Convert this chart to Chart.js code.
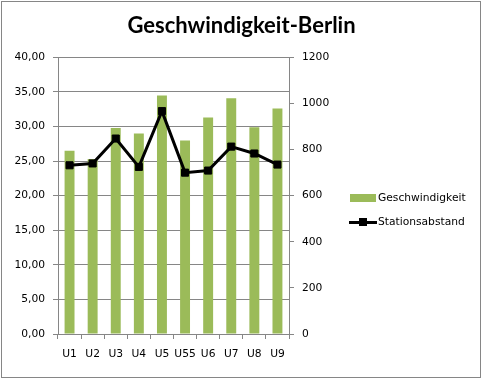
<!DOCTYPE html>
<html>
<head>
<meta charset="utf-8">
<script src="https://cdn.jsdelivr.net/npm/chart.js@4/dist/chart.umd.min.js"></script>
<style>
  html, body { margin: 0; padding: 0; background: #fff; }
  #wrap { position: relative; width: 483px; height: 380px; overflow: hidden; }
  #frame { position: absolute; left: 1px; top: 1px; width: 478px; height: 375px; border: 1px solid #868686; pointer-events: none; }
  .leg { position: absolute; font-family: "DejaVu Sans", sans-serif; font-size: 10.7px; color: #000; line-height: 14px; white-space: nowrap; }
  .sw-bar { position: absolute; background: #9BBB59; }
  .sw-line { position: absolute; background: #000; }
</style>
</head>
<body>
<div id="wrap">
  <canvas id="c" width="483" height="380"></canvas>
  <div class="sw-bar" style="left:350px; top:194px; width:26px; height:8px;"></div>
  <div class="leg" style="left:378px; top:191px;">Geschwindigkeit</div>
  <div class="sw-line" style="left:349px; top:221px; width:28px; height:3px;"></div>
  <div class="sw-line" style="left:359px; top:218px; width:8px; height:8px;"></div>
  <div class="leg" style="left:378px; top:215px;">Stationsabstand</div>
  <div id="frame"></div>
</div>
<script>
const categories = ["U1", "U2", "U3", "U4", "U5", "U55", "U6", "U7", "U8", "U9"];
const geschwindigkeit = [26.5, 25.3, 29.8, 29.0, 34.5, 28.0, 31.3, 34.1, 29.9, 32.6];
const stationsabstand = [732, 740, 848, 725, 967, 700, 709, 813, 783, 735];
const titleText = "Geschwindigkeit-Berlin";
const seriesNames = ["Geschwindigkeit", "Stationsabstand"];

const tickFont = { family: "DejaVu Sans", size: 10.7 };

new Chart(document.getElementById("c"), {
  type: "bar",
  data: {
    labels: categories,
    datasets: [
      {
        type: "line",
        label: seriesNames[1],
        data: stationsabstand,
        yAxisID: "y1",
        borderColor: "#000",
        backgroundColor: "#000",
        borderWidth: 3,
        pointStyle: "rect",
        pointRadius: 5,
        pointBorderWidth: 1,
        pointBackgroundColor: "#000",
        pointBorderColor: "#000",
        tension: 0,
        order: 0
      },
      {
        type: "bar",
        label: seriesNames[0],
        data: geschwindigkeit,
        yAxisID: "y",
        backgroundColor: "#9BBB59",
        borderWidth: 0,
        categoryPercentage: 1,
        barPercentage: 0.43,
        order: 1
      }
    ]
  },
  options: {
    responsive: false,
    animation: false,
    layout: { padding: { left: 0, right: 0, top: 0, bottom: 0 } },
    plugins: {
      legend: { display: false },
      tooltip: { enabled: false },
      title: {
        display: true,
        text: titleText,
        color: "#000",
        font: { family: "Lato", size: 22, weight: "bold", lineHeight: 1.2 },
        padding: { top: 13, bottom: 18 }
      }
    },
    scales: {
      x: {
        offset: true,
        grid: { offset: true, drawOnChartArea: false, drawTicks: true, tickLength: 5, color: "#868686" },
        border: { display: true, color: "#868686", width: 1 },
        ticks: { color: "#000", font: tickFont, padding: 9, maxRotation: 0, autoSkip: false },
        afterFit(s) { s.height = 46; }
      },
      y: {
        position: "left",
        min: 0, max: 40,
        ticks: {
          stepSize: 5, color: "#000", font: tickFont, padding: 8,
          callback: v => v.toFixed(2).replace(".", ",")
        },
        grid: { color: "#868686", tickLength: 5 },
        border: { display: true, color: "#868686", width: 1 },
        afterFit(s) { s.width = 58; }
      },
      y1: {
        position: "right",
        min: 0, max: 1200,
        ticks: { stepSize: 200, color: "#000", font: tickFont, padding: 8, callback: v => String(v) },
        grid: { drawOnChartArea: false, color: "#868686", tickLength: 5 },
        border: { display: true, color: "#868686", width: 1 },
        afterFit(s) { s.width = 194; }
      }
    }
  }
});
</script>
</body>
</html>
